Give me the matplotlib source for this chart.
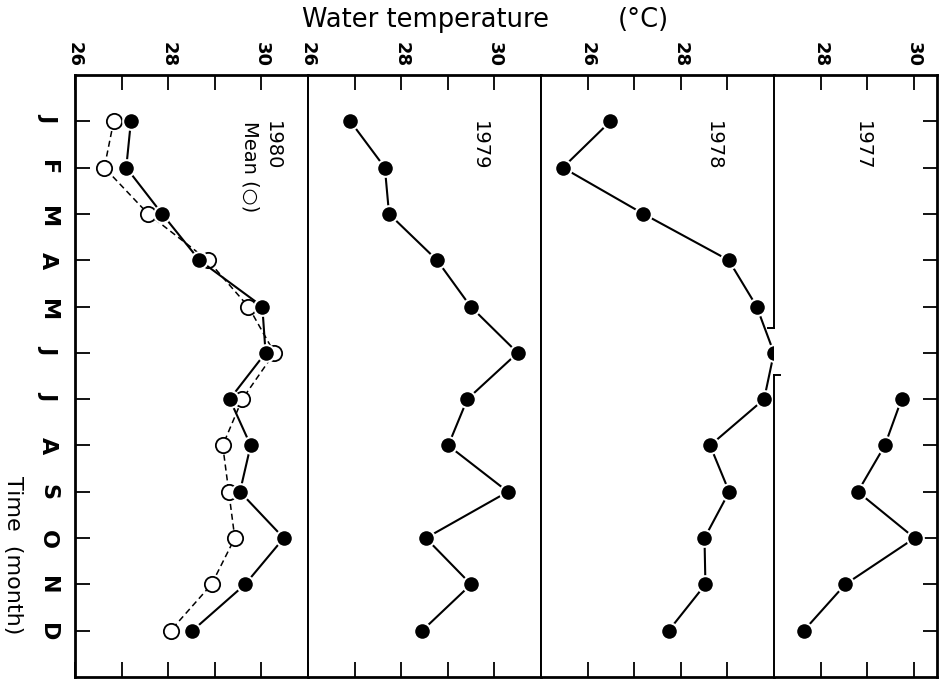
import numpy as np
import matplotlib
matplotlib.use("Agg")
import matplotlib.pyplot as plt

# months run top -> bottom, temperature runs left -> right (chart drawn sideways)
months = ["J", "F", "M", "A", "M", "J", "J", "A", "S", "O", "N", "D"]
month_pos = np.arange(1, 13)

t1980 = [27.2, 27.1, 27.87, 28.67, 30.02, 30.09, 29.32, 29.77, 29.54, 30.48, 29.65, 28.52]
t_mean = [26.83, 26.63, 27.57, 28.85, 29.72, 30.28, 29.59, 29.17, 29.3, 29.43, 28.93, 28.05]
t1979 = [26.91, 27.65, 27.74, 28.77, 29.49, 30.5, 29.42, 29.01, 30.29, 28.53, 29.5, 28.45]
t1978 = [26.49, 25.47, 27.2, 29.03, 29.63, 30.0, 29.79, 28.63, 29.04, 28.51, 28.53, 27.74]
t1977 = [29.74, 29.38, 28.8, 30.02, 28.53, 27.64]
month_pos_1977 = month_pos[6:]

plt.rcParams['font.family'] = ['DejaVu Sans']

fig = plt.figure(figsize=(9.5, 6.82), dpi=100)
gs = fig.add_gridspec(1, 4, width_ratios=[5, 5, 5, 3.5], wspace=0,
                      left=75/950, right=937/950, top=1-75/682, bottom=1-677/682)
axes = [fig.add_subplot(gs[0, i]) for i in range(4)]

# (xlim, tick positions, labelled ticks)
panels = [
    ((26, 31), [26, 27, 28, 29, 30], [26, 28, 30]),
    ((26, 31), [26, 27, 28, 29, 30], [26, 28, 30]),
    ((25, 30), [26, 27, 28, 29], [26, 28]),
    ((27, 30.5), [28, 29, 30], [28, 30]),
]

for ax, (xl, ticks, labelled) in zip(axes, panels):
    ax.set_xlim(*xl)
    ax.set_ylim(13, 0)
    ax.set_xticks(ticks)
    ax.set_xticklabels([str(t) if t in labelled else "" for t in ticks],
                       fontweight='bold')
    ax.xaxis.set_ticks_position('both')
    ax.xaxis.set_label_position('top')
    ax.tick_params(axis='x', direction='in', length=11, width=1.3,
                   labeltop=True, labelbottom=False, labelsize=13,
                   labelrotation=-90, pad=6)
    ax.set_yticks([])
    for s in ax.spines.values():
        s.set_linewidth(1.4)

# month ticks on the outer left and right edges
axes[0].set_yticks(month_pos)
axes[0].set_yticklabels(months, fontweight='bold')
axes[0].tick_params(axis='y', direction='in', length=11, width=1.3,
                    labelsize=16, labelrotation=-90, pad=12)
axes[3].set_yticks(month_pos)
axes[3].yaxis.set_ticks_position('right')
axes[3].tick_params(axis='y', direction='in', length=10, width=1.3,
                    labelright=False, labelleft=False)
axes[0].spines['left'].set_linewidth(2)
axes[3].spines['right'].set_linewidth(2)
for ax in axes:
    ax.spines['top'].set_linewidth(2)
    ax.spines['bottom'].set_linewidth(2)

# broken divider between 1978 and 1977 where June reaches the edge
axes[2].spines['right'].set_visible(False)
axes[3].spines['left'].set_visible(False)
ax4 = axes[3]
ax4.plot([27, 27], [0, 5.46], color='black', lw=1.4, clip_on=False)
ax4.plot([27, 27], [6.47, 13], color='black', lw=1.4, clip_on=False)
ax4.plot([26.88, 27], [5.46, 5.46], color='black', lw=1.4, clip_on=False)
ax4.plot([27, 27.12], [6.47, 6.47], color='black', lw=1.4, clip_on=False)

filled = dict(color='black', lw=1.5, marker='o', ms=12, mfc='black',
              mec='white', mew=1.5, clip_on=False, zorder=3)

axes[0].plot(t_mean, month_pos, color='black', lw=1.1, ls=(0, (4, 2.5)),
             marker='o', ms=11, mfc='white', mec='black', mew=1.3,
             clip_on=False, zorder=2)
axes[0].plot(t1980, month_pos, **filled)
axes[1].plot(t1979, month_pos, **filled)
axes[2].plot(t1978, month_pos, **filled)
axes[3].plot(t1977, month_pos_1977, **filled)

axes[0].text(30.0, 1.0, "1980\nMean (○)", rotation=-90, ha='center', va='top',
             fontsize=14, multialignment='left')
axes[1].text(29.68, 1.0, "1979", rotation=-90, ha='center', va='top', fontsize=14)
axes[2].text(28.7, 1.0, "1978", rotation=-90, ha='center', va='top', fontsize=14)
axes[3].text(28.9, 1.0, "1977", rotation=-90, ha='center', va='top', fontsize=14)

fig.text(425/950, 1-20/682, "Water temperature", ha='center', va='center', fontsize=18.5)
fig.text(643/950, 1-20/682, "(°C)", ha='center', va='center', fontsize=18.5)
fig.text(13/950, 1-555/682, "Time  (month)", rotation=-90, ha='center', va='center',
         fontsize=16)

fig.savefig("out.png", dpi=100)
